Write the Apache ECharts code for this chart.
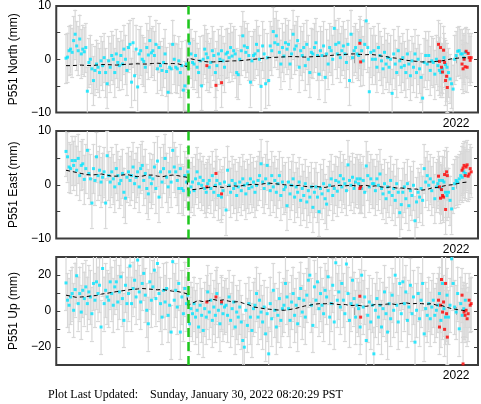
<!DOCTYPE html>
<html><head><meta charset="utf-8">
<script src="https://cdn.jsdelivr.net/npm/echarts@6/dist/echarts.min.js"></script>
<style>html,body{margin:0;padding:0;background:#fff;}#c{width:481px;height:404px;}</style>
</head><body><div id="c"></div>
<script>
// ---- sample times (decimal years) ----
const times = [
2018.160,2018.175,2018.190,2018.205,2018.220,2018.235,2018.250,2018.265,2018.280,2018.295,2018.310,2018.325,2018.340,2018.355,2018.370,2018.385,2018.400,2018.415,2018.430,2018.445,
2018.460,2018.475,2018.490,2018.505,2018.520,2018.535,2018.550,2018.565,2018.580,2018.595,2018.610,2018.625,2018.640,2018.655,2018.670,2018.685,2018.700,2018.715,2018.730,2018.745,
2018.760,2018.775,2018.790,2018.805,2018.820,2018.835,2018.850,2018.865,2018.880,2018.895,2018.910,2018.925,2018.940,2018.955,2018.970,2018.985,2019.000,2019.015,2019.030,2019.045,
2019.060,2019.075,2019.090,2019.105,2019.120,2019.135,2019.150,2019.165,2019.180,2019.195,2019.210,2019.225,2019.240,2019.255,2019.270,2019.285,2019.300,2019.315,2019.330,2019.345,
2019.360,2019.375,2019.390,2019.405,2019.420,2019.435,2019.450,2019.465,2019.480,2019.495,2019.510,2019.525,2019.540,2019.555,2019.570,2019.585,2019.600,2019.615,2019.630,2019.645,
2019.660,2019.675,2019.690,2019.705,2019.720,2019.735,2019.750,2019.765,2019.780,2019.795,2019.810,2019.825,2019.840,2019.855,2019.870,2019.885,2019.900,2019.915,2019.930,2019.945,
2019.960,2019.975,2019.990,2020.005,2020.020,2020.035,2020.050,2020.065,2020.080,2020.095,2020.110,2020.125,2020.140,2020.155,2020.170,2020.185,2020.200,2020.215,2020.230,2020.245,
2020.260,2020.275,2020.290,2020.305,2020.320,2020.335,2020.350,2020.365,2020.380,2020.395,2020.410,2020.425,2020.440,2020.455,2020.470,2020.485,2020.500,2020.515,2020.530,2020.545,
2020.560,2020.575,2020.590,2020.605,2020.620,2020.635,2020.650,2020.665,2020.680,2020.695,2020.710,2020.725,2020.740,2020.755,2020.770,2020.785,2020.800,2020.815,2020.830,2020.845,
2020.860,2020.875,2020.890,2020.905,2020.920,2020.935,2020.950,2020.965,2020.980,2020.995,2021.010,2021.025,2021.040,2021.055,2021.070,2021.085,2021.100,2021.115,2021.130,2021.145,
2021.160,2021.175,2021.190,2021.205,2021.220,2021.235,2021.250,2021.265,2021.280,2021.295,2021.310,2021.325,2021.340,2021.355,2021.370,2021.385,2021.400,2021.415,2021.430,2021.445,
2021.460,2021.475,2021.490,2021.505,2021.520,2021.535,2021.550,2021.565,2021.580,2021.595,2021.610,2021.625,2021.640,2021.655,2021.670,2021.685,2021.700,2021.715,2021.730,2021.745,
2021.760,2021.775,2021.790,2021.805,2021.820,2021.835,2021.850,2021.865,2021.880,2021.895,2021.910,2021.925,2021.940,2021.955,2021.970,2021.985,2022.000,2022.015,2022.030,2022.045,
2022.060,2022.075,2022.090
];
// ---- North (mm) ----
const north = [
0.2,0.4,1.6,1.9,1.3,3.5,4.7,2.5,1.6,3.8,1.0,1.9,1.4,2.2,-6.0,
-0.6,0.0,-1.8,-4.0,-2.1,-0.9,-1.5,-2.5,-0.3,-1.2,0.3,-2.5,-4.6,
-0.3,-1.5,0.7,0.0,-2.5,1.0,-0.6,-1.2,0.7,-0.9,1.9,0.0,-2.1,
2.2,2.8,-4.3,3.1,-3.1,1.9,-5.2,1.0,1.6,0.0,-0.4,-1.5,2.2,0.8,3.5,1.2,
1.6,0.7,2.8,-1.8,2.2,-1.2,-2.1,-0.6,1.0,-2.3,-6.2,-1.5,-1.8,
2.8,0.0,-1.5,-1.8,-0.3,-2.5,-1.2,-5.8,-5.0,-0.9,-1.5,
3.0,1.0,-0.6,-0.9,0.7,-1.5,-2.5,-0.3,-5.0,0.0,1.9,
1.0,0.3,-1.5,-0.6,1.6,0.7,-2.5,-1.2,1.0,0.0,1.6,-0.3,-1.5,
1.0,1.3,0.3,2.2,0.6,1.6,1.0,-2.5,-2.9,0.0,1.6,4.4,2.5,1.3,2.2,0.7,-4.3,-0.3,0.7,
1.0,2.8,1.6,0.0,-5.1,2.5,1.0,-4.6,0.3,-4.0,2.5,1.6,5.2,3.1,4.4,2.8,1.3,-0.9,2.2,0.6,
3.1,1.9,2.8,-0.9,1.0,4.7,1.9,2.5,3.5,-1.5,1.6,0.7,2.2,-1.2,2.8,0.0,-2.5,1.3,1.0,
2.2,3.1,0.7,-2.8,1.6,0.7,2.5,-3.4,1.0,-0.9,2.2,1.6,0.0,5.8,2.8,1.0,
3.1,0.3,1.6,2.5,1.0,-0.6,2.8,-4.0,4.7,0.3,1.6,2.2,1.0,
0.7,3.5,1.6,-0.3,2.8,7.2,2.2,-6.1,1.3,0.0,
1.6,0.0,-1.5,2.2,0.7,-0.3,-1.8,1.3,-0.9,0.3,-1.5,0.0,-6.4,1.0,-0.9,-2.5,1.6,-0.3,-1.5,
0.3,-1.2,-2.5,1.0,-0.9,-3.1,-0.3,-1.5,1.0,-2.5,0.0,-1.8,-3.4,-7.3,-0.6,0.7,
-0.9,0.7,-2.1,-0.3,-0.6,-2.8,0.0,-1.2,-2.1,-2.5,-1.8,0.3,-1.0,
-1.5,-2.5,-3.7,-4.6,-5.6,0.0,0.7,1.5,1.6,1.0,1.0,0.3,1.3
];
// ---- East (mm) ----
const east = [
6.2,5.2,3.3,3.0,4.5,3.6,4.5,2.7,4.9,1.7,3.6,3.9,1.0,3.0,6.4,
2.1,1.1,-3.4,3.0,0.8,5.2,1.7,2.7,0.5,1.4,2.4,-3.4,5.4,
1.7,0.5,2.4,1.1,-0.4,3.0,1.7,0.2,0.8,2.1,-1.4,-2.5,1.4,
2.4,0.8,1.7,3.3,0.2,1.4,2.4,-0.4,3.0,3.6,0.8,2.1,-0.7,-1.7,1.4,0.2,
1.1,3.3,-0.7,4.4,-2.3,2.4,0.5,3.0,4.9,1.4,-0.4,2.4,0.5,
6.4,3.3,2.4,0.8,-0.7,3.0,-0.7,-1.1,1.7,0.5,2.4,
-1.4,-0.4,0.5,-1.1,1.1,2.4,0.2,1.4,-0.1,0.8,-0.7,
-1.4,0.2,0.8,-0.7,1.7,-1.4,-0.1,0.8,-2.0,0.2,-2.3,-1.1,0.5,
-4.7,2.7,-0.1,-1.4,0.8,-0.7,0.2,-2.0,-0.4,0.5,-1.1,1.1,-0.1,-1.7,0.2,-0.7,1.1,-0.4,0.5,
-1.4,-0.1,0.8,1.7,3.9,0.5,-0.7,1.1,3.6,0.2,-1.1,1.7,-0.4,0.8,-1.4,0.2,1.7,-2.0,0.5,-0.9,
-0.4,-3.9,0.5,-1.7,-0.1,1.1,-2.3,-0.4,-1.4,0.5,-2.9,-0.7,-2.0,0.2,-3.2,-1.1,-2.3,-0.4,-4.2,
-1.4,-0.4,-2.3,-5.0,-0.7,-1.7,0.2,-2.6,-3.6,-1.1,-0.1,1.1,-2.0,-0.7,0.8,-1.2,
0.5,1.7,-0.4,1.1,0.2,-1.1,3.7,0.8,-0.1,1.4,-0.7,0.5,1.1,
0.2,1.1,-0.7,0.8,-1.4,3.5,1.7,-0.4,1.1,0.2,
0.2,-1.1,1.1,-0.1,2.0,-0.7,-1.7,0.2,-2.6,-0.4,-1.4,0.8,-2.0,-0.7,-2.9,0.2,-1.4,-5.2,-3.7,
-1.4,-0.4,-2.6,0.2,-3.9,-1.1,-2.0,-0.1,-6.7,-3.2,-1.4,-2.3,-0.7,-2.9,3.0,0.5,
1.7,-0.1,1.1,-1.1,0.5,-2.6,-0.4,0.2,0.8,-0.7,0.8,0.5,-1.4,
-2.0,-1.4,-2.9,-4.5,-0.7,0.2,0.8,0.5,1.1,1.7,1.4,2.4,2.1
];
// ---- Up (mm) ----
const up = [
15.6,6.0,3.2,7.8,9.7,0.4,11.9,19.6,4.1,9.7,-0.6,11.5,6.9,13.4,4.1,
10.6,7.8,-1.5,15.3,6.0,16.2,9.7,14.3,-8.9,23.6,4.1,11.5,7.8,
6.0,16.2,9.7,3.2,13.4,16.2,5.0,10.6,19.0,6.9,-5.2,14.3,4.1,
9.7,25.0,4.1,12.5,17.1,7.8,28.3,10.6,5.0,15.3,20.9,8.8,0.4,-7.1,16.2,6.0,
13.4,22.7,6.9,26.4,9.7,4.1,-3.4,11.5,5.0,12.5,-2.4,3.2,-11.7,
27.4,6.0,11.5,2.2,15.3,-11.7,7.8,-1.5,12.5,4.1,8.8,
-7.1,1.3,-1.5,4.1,-3.4,0.4,-8.9,3.2,-2.4,-10.8,1.3,
-3.4,10.6,-0.6,6.0,-5.2,2.2,-2.4,9.7,0.4,-7.1,4.1,-1.5,2.2,
3.2,-2.4,7.8,-5.2,1.3,5.0,-8.9,-0.6,-3.4,2.2,-6.1,-16.4,-20.1,0.4,-8.0,4.1,-3.4,-10.8,1.3,
3.2,9.7,-3.4,6.0,-0.6,-6.1,2.2,-12.7,-1.5,-23.8,4.1,-4.3,11.5,0.4,-8.9,-2.4,6.9,-5.2,1.3,3.2,
15.3,7.8,1.3,-5.2,5.0,9.7,-2.4,3.2,-7.1,6.9,12.5,-0.6,6.0,-3.4,8.8,17.1,19.9,3.2,-8.0,
13.4,6.0,16.2,1.3,9.7,3.2,-1.5,11.5,7.8,19.0,-3.4,4.1,14.3,-6.1,26.8,6.0,
10.6,2.2,15.3,6.0,-1.5,26.1,9.7,-5.2,4.1,17.1,6.9,-3.4,3.2,
1.3,-8.9,19.9,2.2,7.8,-16.4,-2.4,5.0,-6.1,3.2,
-23.8,0.4,6.9,-3.4,3.2,-8.9,1.3,10.6,-1.5,-11.7,4.1,-4.3,8.8,0.4,19.9,3.2,-6.1,15.3,-1.5,
16.2,4.1,10.6,-5.2,2.2,14.3,-1.5,7.8,-17.3,0.4,9.7,-4.3,6.0,15.3,-12.7,1.3,
-2.4,4.1,-4.3,2.2,6.0,-2.4,0.4,3.2,9.7,-5.2,15.3,1.3,-3.4,
8.8,-3.4,3.2,29.0,15.3,2.2,-0.6,9.7,-9.9,4.1,-2.4,1.3,6.0
];
// ---- red (rapid) solutions ----
const redTimes = [2019.546,2019.636,2019.691,2021.052,2021.060,
2021.826,2021.836,2021.846,2021.856,2021.866,2021.876,2021.886,2021.896,2021.906,2021.913,
2022.058,2022.068,2022.078,2022.088,2022.098,2022.108,2022.118,2022.128,2022.138,2022.148];
const redNorth = [-1.2,-4.9,-4.4,3.0,-0.5, 2.8,-0.4,2.2,-1.5,-2.4,1.7,-0.6,-4.0,-3.2,-5.3, -0.9,-1.8,0.0,-1.4,1.5,-1.5,1.1,0.3,-0.2,0.3];
const redEast  = [-0.4,2.1,-1.7,-0.7,-0.4, 1.6,-0.4,-2.5,-0.9,-2.0,-2.3,1.9,-4.6,2.4,1.7, 2.7,3.1,3.6,1.7,3.3,3.7,1.6,2.0,3.0,2.4];
const redUp    = [5.0,7.8,5.0,8.2,-3.4, 6.0,-8.9,3.2,17.5,-0.6,5.0,-10.2,15.3,-1.5,-14.5, 8.8,-29.4,-0.6,-2.4,0.4,-4.3,-1.5,6.0,3.2,4.1];
// ---- 1-sigma errors (mm) ----
const errNorth = 4.6, errEast = 4.6, errUp = 15;
// ---- model (dashed) ----
const modelTimes = [2018.16,2018.21,2018.26,2018.31,2018.36,2018.41,2018.46,2018.51,2018.56,2018.61,2018.66,2018.71,2018.76,2018.81,2018.86,2018.91,2018.96,2019.01,2019.06,2019.11,2019.16,2019.21,2019.26,2019.31,2019.35,
2019.36,2019.41,2019.46,2019.51,2019.56,2019.61,2019.66,2019.71,2019.76,2019.81,2019.86,2019.91,2019.96,
2020.01,2020.06,2020.11,2020.16,2020.21,2020.26,2020.31,2020.36,2020.41,2020.46,2020.51,2020.56,2020.61,2020.66,2020.71,2020.76,2020.81,2020.86,2020.91,2020.96,
2021.01,2021.06,2021.11,2021.16,2021.21,2021.26,2021.31,2021.36,2021.41,2021.46,2021.51,2021.56,2021.61,2021.66,2021.71,2021.76,2021.81,2021.86,2021.91,2021.96,
2022.01,2022.06,2022.11];
const modelNorth = [-1.2,-1.2,-1.15,-1.1,-1.15,-1.2,-1.1,-1.0,-1.0,-1.05,-1.1,-1.0,-0.95,-0.9,-0.85,-0.9,-0.9,-0.8,-0.75,-0.8,-0.85,-0.8,-0.85,-1.1,-1.4,
0.2,0.0,-0.2,-0.4,-0.5,-0.5,-0.45,-0.4,-0.35,-0.3,-0.3,-0.2,-0.1,
0.0,0.1,0.2,0.3,0.35,0.4,0.45,0.5,0.5,0.45,0.4,0.45,0.5,0.55,0.6,0.7,0.8,0.85,0.9,1.0,
1.0,0.9,0.85,0.9,0.8,0.6,0.5,0.3,0.2,0.0,-0.2,-0.3,-0.4,-0.5,-0.5,-0.5,-0.4,-0.3,-0.1,0.1,
0.2,0.3,0.3];
const modelEast = [2.7,2.5,2.3,2.1,1.9,1.8,1.9,2.0,1.8,1.6,1.6,1.8,1.9,1.7,1.5,1.6,1.8,1.8,1.6,1.5,1.7,1.8,1.7,1.5,1.4,
-1.0,-0.9,-0.8,-0.6,-0.5,-0.3,-0.4,-0.5,-0.3,-0.2,-0.3,-0.1,0.0,
0.1,0.0,0.2,0.3,0.2,0.1,0.0,-0.1,-0.2,-0.1,-0.3,-0.4,-0.3,-0.4,-0.5,-0.3,-0.2,-0.1,-0.2,-0.1,
-0.2,-0.2,-0.1,-0.3,-0.2,-0.4,-0.5,-0.4,-0.6,-0.6,-0.7,-0.8,-0.8,-1.0,-0.9,-0.6,-0.5,-0.3,-0.1,0.0,
0.2,0.4,0.5];
const modelUp = [8.8,8.2,7.6,7.8,8.0,8.4,8.6,9.4,9.8,10.3,10.8,11.2,11.6,12.0,12.2,12.5,12.3,12.0,11.8,11.9,11.5,11.0,10.8,10.2,9.6,
3.0,4.5,5.8,5.2,5.6,6.4,5.8,6.2,5.5,5.0,5.2,4.2,3.4,
2.2,1.8,1.3,1.0,0.7,0.5,0.4,0.8,1.3,2.0,2.8,3.2,3.8,4.1,4.0,4.3,3.8,3.5,3.6,3.0,
3.2,3.0,2.6,3.0,3.7,3.4,3.8,4.0,3.6,4.2,4.5,4.0,4.2,4.1,3.8,4.1,3.2,3.0,2.0,1.3,
0.8,0.4,-0.2];
// ---- axes ----
const antennaChange = 2019.356;
const xTicks = [2019, 2020, 2021, 2022];
const xLabels = [2022];
const xMin = 2018.064, xMax = 2022.215;
const titles = ['P551 North (mm)', 'P551 East (mm)', 'P551 Up (mm)'];

const panels = [
  {title: titles[0], vals: north, red: redNorth, model: modelNorth, err: errNorth, min: -10, max: 10, step: 5, lab: 10},
  {title: titles[1], vals: east,  red: redEast,  model: modelEast,  err: errEast,  min: -10, max: 10, step: 5, lab: 10},
  {title: titles[2], vals: up,    red: redUp,    model: modelUp,    err: errUp,    min: -30, max: 30, step: 10, lab: 20}
];
const layout = [{top: 5, h: 107.5}, {top: 131, h: 107.5}, {top: 257, h: 108}];

const FRAME = '#3c3c3c';
const BAR = '#d8d8d8';
const FONT = '"Liberation Sans", Arial, Helvetica, sans-serif';

function errRender(params, api) {
  const t = api.value(0), v = api.value(1), e = api.value(2);
  const cs = params.coordSys;
  const pTop = api.coord([t, v + e]);
  const pBot = api.coord([t, v - e]);
  const yMinPx = cs.y, yMaxPx = cs.y + cs.height;
  const y0 = Math.max(pTop[1], yMinPx), y1 = Math.min(pBot[1], yMaxPx);
  if (y0 >= y1) return;
  const x = pTop[0];
  const st = {stroke: BAR, lineWidth: 1.2};
  const ch = [{type: 'line', shape: {x1: x, y1: y0, x2: x, y2: y1}, style: st}];
  if (pTop[1] >= yMinPx) ch.push({type: 'line', shape: {x1: x - 2, y1: Math.round(pTop[1]) + 0.5, x2: x + 2, y2: Math.round(pTop[1]) + 0.5}, style: st});
  if (pBot[1] <= yMaxPx) ch.push({type: 'line', shape: {x1: x - 2, y1: Math.round(pBot[1]) + 0.5, x2: x + 2, y2: Math.round(pBot[1]) + 0.5}, style: st});
  return {type: 'group', children: ch};
}

const grid = [], xAxis = [], yAxis = [], series = [];
panels.forEach((p, k) => {
  grid.push({left: 48, right: 3, top: layout[k].top, height: layout[k].h, show: true,
    borderColor: FRAME, borderWidth: 2, backgroundColor: 'transparent'});
  const tick = {show: true, inside: true, length: 4, customValues: xTicks, lineStyle: {color: FRAME, width: 1}};
  xAxis.push({gridIndex: k, type: 'value', min: xMin, max: xMax, position: 'bottom',
    axisLine: {show: false}, splitLine: {show: false}, axisTick: tick,
    axisLabel: {show: true, customValues: xLabels, formatter: v => String(Math.round(v)),
      fontSize: 12, color: '#000', margin: 5, fontFamily: FONT}});
  xAxis.push({gridIndex: k, type: 'value', min: xMin, max: xMax, position: 'top',
    axisLine: {show: false}, splitLine: {show: false}, axisTick: tick, axisLabel: {show: false}});
  const ytick = {show: true, inside: true, length: 4, lineStyle: {color: FRAME, width: 1}};
  yAxis.push({gridIndex: k, type: 'value', min: p.min, max: p.max, interval: p.step, position: 'left',
    axisLine: {show: false}, splitLine: {show: false}, axisTick: ytick,
    axisLabel: {fontSize: 12, color: '#000', margin: 5, fontFamily: FONT, showMinLabel: true, showMaxLabel: true,
      formatter: v => (Math.abs(v) % p.lab === 0) ? (v < 0 ? '\u2212' + (-v) : String(v)) : ''},
    name: p.title, nameLocation: 'middle', nameGap: 33, nameRotate: 90,
    nameTextStyle: {fontSize: 12, color: '#000', fontFamily: FONT}});
  yAxis.push({gridIndex: k, type: 'value', min: p.min, max: p.max, interval: p.step, position: 'right',
    axisLine: {show: false}, splitLine: {show: false}, axisTick: ytick, axisLabel: {show: false}});

  const pts = times.map((t, i) => [t, p.vals[i], p.err]);
  const rpts = redTimes.map((t, i) => [t, p.red[i], p.err]);
  const mpts = modelTimes.map((t, i) => [t, p.model[i]]);
  series.push({type: 'custom', xAxisIndex: 2 * k, yAxisIndex: 2 * k, renderItem: errRender,
    data: pts.concat(rpts), z: 1, silent: true, animation: false});
  series.push({type: 'scatter', xAxisIndex: 2 * k, yAxisIndex: 2 * k, data: pts.map(d => [d[0], d[1]]),
    symbol: 'rect', symbolSize: 3, itemStyle: {color: '#00e5ff'}, z: 2, silent: true, animation: false});
  series.push({type: 'scatter', xAxisIndex: 2 * k, yAxisIndex: 2 * k, data: rpts.map(d => [d[0], d[1]]),
    symbol: 'rect', symbolSize: 3, itemStyle: {color: '#ff0000'}, z: 3, silent: true, animation: false});
  series.push({type: 'line', xAxisIndex: 2 * k, yAxisIndex: 2 * k, data: mpts, showSymbol: false,
    lineStyle: {color: '#000', width: 1, type: [4, 3]}, z: 4, silent: true, animation: false,
    markLine: {silent: true, symbol: ['none', 'none'], label: {show: false},
      lineStyle: {color: '#1ec81e', width: 2.5, type: [9, 5]}, data: [{xAxis: antennaChange}], z: 5}});
});

const chart = echarts.init(document.getElementById('c'), null, {renderer: 'canvas'});
chart.setOption({
  animation: false,
  backgroundColor: '#fff',
  grid, xAxis, yAxis, series,
  graphic: [{type: 'text', left: 48, top: 389,
    style: {text: 'Plot Last Updated:    Sunday, January 30, 2022 08:20:29 PST',
      font: '12px "Liberation Serif", "Times New Roman", serif', fill: '#000'}}]
});
</script>
</body></html>
